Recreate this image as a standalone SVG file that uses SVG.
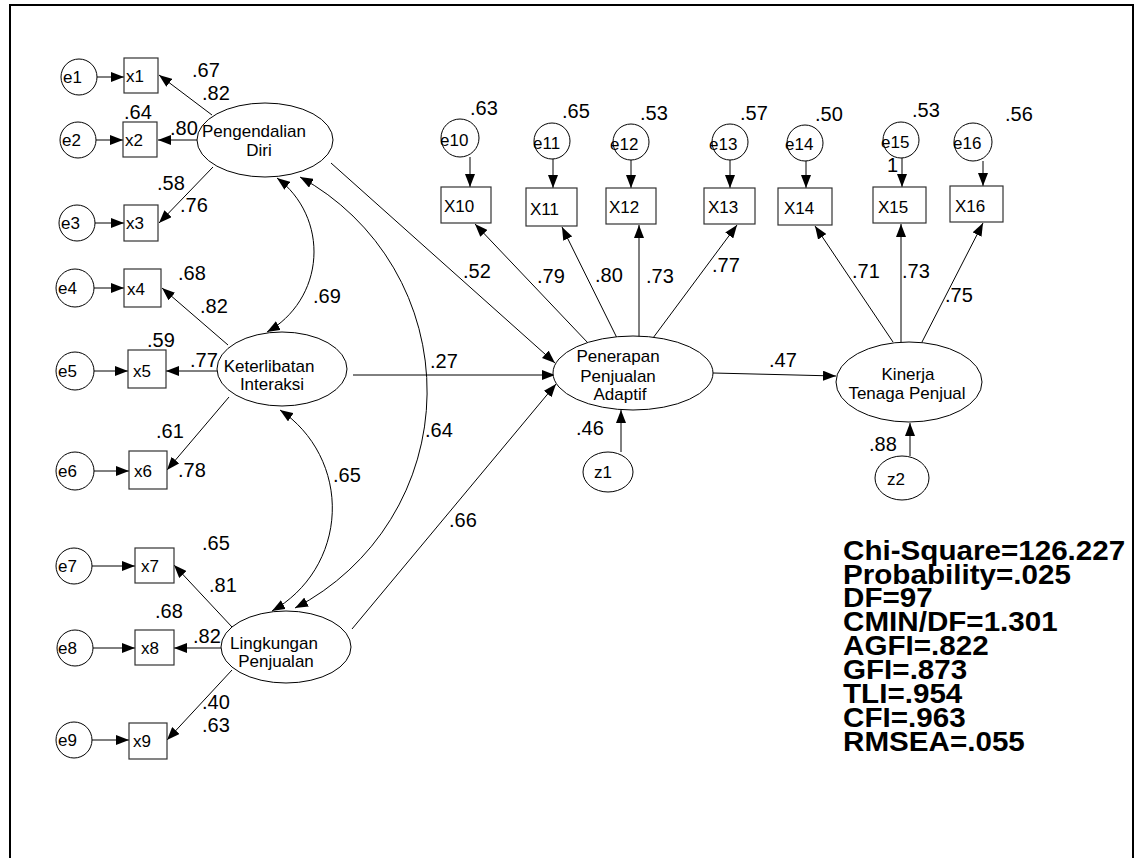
<svg xmlns="http://www.w3.org/2000/svg" width="1142" height="858" viewBox="0 0 1142 858">
<style>
text{font-family:"Liberation Sans",Arial,sans-serif;fill:#000}
.n{font-size:17px}
.c{text-anchor:middle}
.l{font-size:20px}
.fit{font-size:27px;font-weight:bold}
.shape{fill:#fff;stroke:#000;stroke-width:1}
.box{fill:#fff;stroke:#333;stroke-width:1.2}
.e{fill:none;stroke:#000;stroke-width:1;marker-end:url(#ah)}
.cv{fill:none;stroke:#000;stroke-width:1;marker-start:url(#ah);marker-end:url(#ah)}
</style>
<defs>
<marker id="ah" viewBox="0 0 13 10" refX="13" refY="5" markerWidth="13" markerHeight="10" markerUnits="userSpaceOnUse" orient="auto-start-reverse"><path d="M0,0 L13,5 L0,10 z" fill="#000"/></marker>
</defs>
<rect width="1142" height="858" fill="#fff"/>
<path d="M10,858 V5 H1133 V858" fill="none" stroke="#000" stroke-width="2"/>

<g id="connectors">
<line class="e" x1="97" y1="77" x2="124" y2="77"/>
<line class="e" x1="96" y1="140" x2="123" y2="140"/>
<line class="e" x1="95" y1="223" x2="124" y2="223"/>
<line class="e" x1="94" y1="288" x2="124" y2="288"/>
<line class="e" x1="94" y1="371" x2="128" y2="371"/>
<line class="e" x1="94" y1="471" x2="129" y2="471"/>
<line class="e" x1="92" y1="566" x2="135" y2="566"/>
<line class="e" x1="93" y1="648" x2="135" y2="648"/>
<line class="e" x1="92" y1="740" x2="129" y2="740"/>
<line class="e" x1="212" y1="115" x2="159" y2="75"/>
<line class="e" x1="198" y1="140" x2="158" y2="140"/>
<line class="e" x1="213" y1="167" x2="159" y2="223"/>
<line class="e" x1="228" y1="345" x2="162" y2="288"/>
<line class="e" x1="217" y1="371" x2="166" y2="371"/>
<line class="e" x1="229" y1="397" x2="167" y2="470"/>
<line class="e" x1="232" y1="627" x2="174" y2="565"/>
<line class="e" x1="221" y1="648" x2="174" y2="648"/>
<line class="e" x1="232" y1="670" x2="167" y2="740"/>
<path class="cv" d="M277,178 A92,92 0 0 1 267,332"/>
<path class="cv" d="M280,410 A118,118 0 0 1 272,611"/>
<path class="cv" d="M300,177 A244,244 0 0 1 295,608"/>
<line class="e" x1="331" y1="163" x2="555" y2="363"/>
<line class="e" x1="353" y1="375" x2="555" y2="375"/>
<line class="e" x1="352" y1="629" x2="556" y2="384"/>
<line class="e" x1="713" y1="373" x2="836" y2="376"/>
<line class="e" x1="621" y1="452" x2="621" y2="410"/>
<line class="e" x1="910" y1="456" x2="910" y2="423"/>
<line class="e" x1="588" y1="343" x2="475" y2="224"/>
<line class="e" x1="617" y1="338" x2="562" y2="227"/>
<line class="e" x1="639" y1="337" x2="639" y2="225"/>
<line class="e" x1="653" y1="338" x2="737" y2="225"/>
<line class="e" x1="893" y1="342" x2="815" y2="226"/>
<line class="e" x1="901" y1="342" x2="901" y2="224"/>
<line class="e" x1="922" y1="342" x2="983" y2="223"/>
<line class="e" x1="470" y1="157" x2="470" y2="187"/>
<line class="e" x1="553" y1="159" x2="553" y2="188"/>
<line class="e" x1="631" y1="160" x2="631" y2="188"/>
<line class="e" x1="730" y1="160" x2="730" y2="188"/>
<line class="e" x1="806" y1="161" x2="806" y2="188"/>
<line class="e" x1="902" y1="158" x2="902" y2="187"/>
<line class="e" x1="983" y1="161" x2="983" y2="186"/>
</g>

<g id="e1"><circle class="shape" cx="79" cy="77" r="18"/><text class="n" x="63" y="83">e1</text></g>
<g id="e2"><circle class="shape" cx="78" cy="140" r="18"/><text class="n" x="62" y="146">e2</text></g>
<g id="e3"><circle class="shape" cx="77" cy="223" r="18"/><text class="n" x="61" y="229">e3</text></g>
<g id="e4"><circle class="shape" cx="75" cy="288" r="19"/><text class="n" x="58" y="294">e4</text></g>
<g id="e5"><circle class="shape" cx="75" cy="371" r="19"/><text class="n" x="58" y="377">e5</text></g>
<g id="e6"><circle class="shape" cx="75" cy="471" r="19"/><text class="n" x="58" y="477">e6</text></g>
<g id="e7"><circle class="shape" cx="74" cy="566" r="18"/><text class="n" x="58" y="572">e7</text></g>
<g id="e8"><circle class="shape" cx="75" cy="648" r="18"/><text class="n" x="58" y="654">e8</text></g>
<g id="e9"><circle class="shape" cx="74" cy="740" r="18"/><text class="n" x="58" y="746">e9</text></g>

<g id="x1"><rect class="box" x="124" y="58" width="34" height="35"/><text class="n" x="126" y="82">x1</text></g>
<g id="x2"><rect class="box" x="123" y="122" width="34" height="35"/><text class="n" x="125" y="146">x2</text></g>
<g id="x3"><rect class="box" x="124" y="205" width="34" height="36"/><text class="n" x="126" y="229">x3</text></g>
<g id="x4"><rect class="box" x="124" y="269" width="37" height="38"/><text class="n" x="127" y="295">x4</text></g>
<g id="x5"><rect class="box" x="128" y="350" width="38" height="38"/><text class="n" x="133" y="377">x5</text></g>
<g id="x6"><rect class="box" x="129" y="451" width="38" height="38"/><text class="n" x="134" y="477">x6</text></g>
<g id="x7"><rect class="box" x="135" y="548" width="39" height="35"/><text class="n" x="141" y="572">x7</text></g>
<g id="x8"><rect class="box" x="135" y="630" width="39" height="35"/><text class="n" x="141" y="654">x8</text></g>
<g id="x9"><rect class="box" x="129" y="723" width="38" height="36"/><text class="n" x="133" y="747">x9</text></g>

<g id="pengendalian"><ellipse class="shape" cx="265" cy="140" rx="68" ry="37"/><text class="n c" x="254" y="137">Pengendalian</text><text class="n c" x="259" y="156">Diri</text></g>
<g id="keterlibatan"><ellipse class="shape" cx="282" cy="369" rx="65" ry="37"/><text class="n c" x="269" y="372">Keterlibatan</text><text class="n c" x="272" y="390">Interaksi</text></g>
<g id="lingkungan"><ellipse class="shape" cx="286" cy="647" rx="65" ry="36"/><text class="n c" x="274" y="649">Lingkungan</text><text class="n c" x="276" y="667">Penjualan</text></g>
<g id="penerapan"><ellipse class="shape" cx="633" cy="373" rx="80" ry="37"/><text class="n c" x="618" y="362">Penerapan</text><text class="n c" x="618" y="382">Penjualan</text><text class="n c" x="620" y="400">Adaptif</text></g>
<g id="kinerja"><ellipse class="shape" cx="909" cy="382" rx="73" ry="40"/><text class="n c" x="908" y="380">Kinerja</text><text class="n c" x="907" y="399">Tenaga Penjual</text></g>
<g id="z1"><ellipse class="shape" cx="608" cy="472" rx="25" ry="20"/><text class="n" x="594" y="478">z1</text></g>
<g id="z2"><ellipse class="shape" cx="902" cy="478" rx="27" ry="22"/><text class="n" x="887" y="485">z2</text></g>

<g id="e10"><circle class="shape" cx="460" cy="138" r="19"/><text class="n" x="440" y="146">e10</text></g>
<g id="e11"><circle class="shape" cx="552" cy="141" r="18"/><text class="n" x="533" y="149">e11</text></g>
<g id="e12"><circle class="shape" cx="631" cy="142" r="18"/><text class="n" x="610" y="150">e12</text></g>
<g id="e13"><circle class="shape" cx="730" cy="142" r="18"/><text class="n" x="709" y="150">e13</text></g>
<g id="e14"><circle class="shape" cx="805" cy="143" r="18"/><text class="n" x="785" y="150">e14</text></g>
<g id="e15"><circle class="shape" cx="901" cy="140" r="18"/><text class="n" x="881" y="148">e15</text></g>
<g id="e16"><circle class="shape" cx="973" cy="142" r="19"/><text class="n" x="953" y="149">e16</text></g>

<g id="X10"><rect class="box" x="441" y="187" width="50" height="36"/><text class="n" x="444" y="212">X10</text></g>
<g id="X11"><rect class="box" x="526" y="188" width="51" height="38"/><text class="n" x="530" y="215">X11</text></g>
<g id="X12"><rect class="box" x="606" y="188" width="50" height="36"/><text class="n" x="609" y="213">X12</text></g>
<g id="X13"><rect class="box" x="704" y="188" width="51" height="36"/><text class="n" x="708" y="213">X13</text></g>
<g id="X14"><rect class="box" x="778" y="188" width="54" height="37"/><text class="n" x="784" y="214">X14</text></g>
<g id="X15"><rect class="box" x="873" y="187" width="53" height="36"/><text class="n" x="878" y="213">X15</text></g>
<g id="X16"><rect class="box" x="950" y="186" width="53" height="36"/><text class="n" x="955" y="212">X16</text></g>

<g id="labels">
<text class="l" x="192" y="77">.67</text>
<text class="l" x="202" y="100">.82</text>
<text class="l" x="124" y="119">.64</text>
<text class="l" x="170" y="135">.80</text>
<text class="l" x="157" y="190">.58</text>
<text class="l" x="180" y="212">.76</text>
<text class="l" x="178" y="280">.68</text>
<text class="l" x="200" y="313">.82</text>
<text class="l" x="147" y="347">.59</text>
<text class="l" x="190" y="367">.77</text>
<text class="l" x="156" y="438">.61</text>
<text class="l" x="178" y="477">.78</text>
<text class="l" x="202" y="550">.65</text>
<text class="l" x="209" y="592">.81</text>
<text class="l" x="155" y="618">.68</text>
<text class="l" x="193" y="643">.82</text>
<text class="l" x="202" y="709">.40</text>
<text class="l" x="202" y="732">.63</text>
<text class="l" x="313" y="303">.69</text>
<text class="l" x="333" y="482">.65</text>
<text class="l" x="425" y="437">.64</text>
<text class="l" x="430" y="368">.27</text>
<text class="l" x="449" y="527">.66</text>
<text class="l" x="463" y="278">.52</text>
<text class="l" x="537" y="283">.79</text>
<text class="l" x="595" y="282">.80</text>
<text class="l" x="646" y="283">.73</text>
<text class="l" x="712" y="272">.77</text>
<text class="l" x="852" y="278">.71</text>
<text class="l" x="902" y="278">.73</text>
<text class="l" x="945" y="302">.75</text>
<text class="l" x="470" y="115">.63</text>
<text class="l" x="562" y="118">.65</text>
<text class="l" x="640" y="120">.53</text>
<text class="l" x="740" y="120">.57</text>
<text class="l" x="815" y="121">.50</text>
<text class="l" x="912" y="117">.53</text>
<text class="l" x="1005" y="121">.56</text>
<text class="l" x="887" y="172">1</text>
<text class="l" x="576" y="435">.46</text>
<text class="l" x="769" y="367">.47</text>
<text class="l" x="869" y="451">.88</text>
</g>

<g id="fit" transform="translate(843,0) scale(1.097,1)">
<text class="fit" x="0" y="560">Chi-Square=126.227</text>
<text class="fit" x="0" y="584">Probability=.025</text>
<text class="fit" x="0" y="607">DF=97</text>
<text class="fit" x="0" y="631">CMIN/DF=1.301</text>
<text class="fit" x="0" y="655">AGFI=.822</text>
<text class="fit" x="0" y="679">GFI=.873</text>
<text class="fit" x="0" y="703">TLI=.954</text>
<text class="fit" x="0" y="727">CFI=.963</text>
<text class="fit" x="0" y="751">RMSEA=.055</text>
</g>
</svg>
